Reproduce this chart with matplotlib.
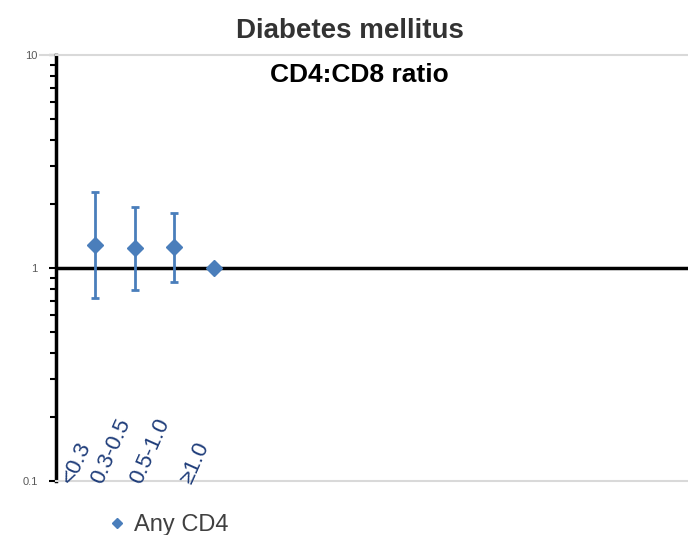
import matplotlib
matplotlib.use("Agg")
import matplotlib.pyplot as plt
import numpy as np

# CD4:CD8 ratio categories and estimates (log scale)
categories = ["<0.3", "0.3-0.5", "0.5-1.0", "\u22651.0"]
estimate = [1.28, 1.24, 1.25, 1.00]
lower_ci = [0.72, 0.79, 0.86, 1.00]
upper_ci = [2.27, 1.93, 1.81, 1.00]

BLUE = "#4a7ebb"
LABEL_BLUE = "#1f3d7a"
plt.rcParams["font.family"] = ["Liberation Sans", "DejaVu Sans"]

fig = plt.figure(figsize=(6.88, 5.35), dpi=100)
ax = fig.add_axes([0.081, 0.101, 0.919, 0.796])

x = np.arange(1, len(categories) + 1)
est = np.array(estimate)
yerr = np.vstack([est - np.array(lower_ci), np.array(upper_ci) - est])

ax.axhline(1, color="black", lw=2.5, zorder=1)
ax.errorbar(x[:3], est[:3], yerr=yerr[:, :3], fmt="D", color=BLUE, ms=8,
            elinewidth=2, capsize=3, capthick=2, zorder=3)
ax.plot(x[3:], est[3:], "D", color=BLUE, ms=8, zorder=3, label="Any CD4")

ax.set_yscale("log")
ax.set_ylim(0.1, 10)
ax.set_xlim(0, 16)
ax.set_xticks([])

ax.spines["right"].set_visible(False)
ax.spines["top"].set_color("#d9d9d9")
ax.spines["top"].set_linewidth(1.5)
ax.spines["bottom"].set_color("#d9d9d9")
ax.spines["bottom"].set_linewidth(1.5)
ax.spines["left"].set_linewidth(2.5)
ax.plot([-0.025, 0], [1, 1], transform=ax.transAxes, color="#d9d9d9",
        lw=1.5, clip_on=False)

ax.set_yticks([0.1, 1, 10])
ax.set_yticklabels(["0.1", "1", "10"])
ax.tick_params(axis="y", which="major", length=5, width=1.5, labelsize=8,
               labelcolor="#595959", pad=8)
ax.tick_params(axis="y", which="minor", length=4, width=1.5)
ax.yaxis.set_minor_formatter(matplotlib.ticker.NullFormatter())

for xi, lab in zip(x, categories):
    ax.text(xi, 0.094, lab, rotation=66, ha="right", va="bottom",
            fontsize=16, color=LABEL_BLUE)

fig.text(0.509, 0.942, "Diabetes mellitus", ha="center", va="center",
         fontsize=20, fontweight="bold", color="#333333")
fig.text(0.522, 0.860, "CD4:CD8 ratio", ha="center", va="center",
         fontsize=19, fontweight="bold", color="black")

leg = fig.legend(loc="center left", bbox_to_anchor=(0.153, 0.018),
                 frameon=False, fontsize=17, handletextpad=0.2,
                 handlelength=1.0, markerscale=0.6, borderpad=0,
                 borderaxespad=0)
for t in leg.get_texts():
    t.set_color("#404040")

fig.savefig("out.png", dpi=100)
